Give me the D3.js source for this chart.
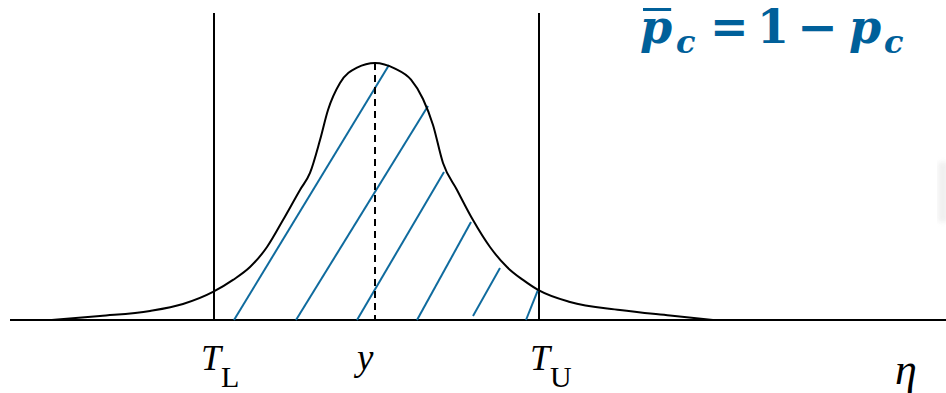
<!DOCTYPE html>
<html>
<head>
<meta charset="utf-8">
<script src="https://cdn.jsdelivr.net/npm/d3@7"></script>
<style>
  html, body { margin: 0; padding: 0; background: #fff; }
  svg { display: block; }
</style>
</head>
<body>
<svg id="chart" width="946" height="393"></svg>
<script>
// Sampled density of the measured quantity η (relative height, peak = 1)
const curveEta     = [-8.08, -6.875, -5.625, -4.8, -4.05, -3.55, -3.125, -2.7, -2.3, -1.875, -1.625, -1.375, -1.175, -0.875, -0.45, 0.0, 0.5, 0.9, 1.2, 1.45, 1.7, 2.05, 2.45, 2.875, 3.3, 3.7, 4.1, 4.875, 6.125, 7.375, 8.45];
const curveDensity = [0.0, 0.0156, 0.035, 0.062, 0.109, 0.156, 0.206, 0.284, 0.389, 0.506, 0.572, 0.700, 0.817, 0.922, 0.982, 1.0, 0.978, 0.935, 0.86, 0.759, 0.611, 0.506, 0.389, 0.284, 0.206, 0.156, 0.115, 0.070, 0.039, 0.0175, 0.0];

// Tolerance limits and the nominal value
const limitNames = ["T", "T"];
const limitSubs  = ["L", "U"];
const limitEta   = [-4.025, 4.1];
const nominalEta = 0;
const nominalLabel = "y";
const axisLabel = "η";

// Hatch strokes marking the conforming region (start / end in η and density)
const hatchStartEta     = [-3.525, -1.975, -0.45, 1.05, 2.45, 3.775];
const hatchStartDensity = [0, 0, 0, 0, 0.016, 0];
const hatchEndEta       = [0.35, 1.325, 1.725, 2.4, 3.125, 4.075];
const hatchEndDensity   = [0.992, 0.833, 0.576, 0.381, 0.202, 0.117];

const W = 946, H = 393;
const x = d3.scaleLinear().domain([-9.375, 14.275]).range([0, W]);
const y = d3.scaleLinear().domain([0, 1]).range([320, 63]);
const axisStartEta = -9.125;
const limitTop = 1.195;

const svg = d3.select("#chart");
const ink = "#000";
const blue = "#0f6b9e";
const formulaBlue = "#00609a";

// faint scan speck at the right edge
const defs = svg.append("defs");
defs.append("filter").attr("id", "soft")
  .append("feGaussianBlur").attr("stdDeviation", 2.5);
svg.append("rect")
  .attr("x", 938).attr("y", 162).attr("width", 10).attr("height", 60)
  .attr("fill", "#d8d8d8").attr("opacity", 0.4).attr("filter", "url(#soft)");

// horizontal η axis
svg.append("line")
  .attr("x1", x(axisStartEta)).attr("x2", x.range()[1])
  .attr("y1", y(0)).attr("y2", y(0))
  .attr("stroke", ink).attr("stroke-width", 2);

// tolerance limit lines
svg.selectAll("line.limit").data(limitEta).join("line")
  .attr("class", "limit")
  .attr("x1", d => x(d)).attr("x2", d => x(d))
  .attr("y1", y(0)).attr("y2", y(limitTop))
  .attr("stroke", ink).attr("stroke-width", 2);

// hatch strokes
const hatch = hatchStartEta.map((s, i) => ({
  x0: s, y0: hatchStartDensity[i], x1: hatchEndEta[i], y1: hatchEndDensity[i]
}));
svg.selectAll("line.hatch").data(hatch).join("line")
  .attr("class", "hatch")
  .attr("x1", d => x(d.x0)).attr("y1", d => y(d.y0))
  .attr("x2", d => x(d.x1)).attr("y2", d => y(d.y1))
  .attr("stroke", blue).attr("stroke-width", 2);

// nominal value, dashed
svg.append("line")
  .attr("x1", x(nominalEta)).attr("x2", x(nominalEta))
  .attr("y1", y(1)).attr("y2", y(0))
  .attr("stroke", ink).attr("stroke-width", 2)
  .attr("stroke-dasharray", "7,5");

// density curve
const pts = curveEta.map((e, i) => [e, curveDensity[i]]);
const line = d3.line().x(d => x(d[0])).y(d => y(d[1])).curve(d3.curveMonotoneX);
svg.append("path")
  .attr("d", line(pts))
  .attr("fill", "none").attr("stroke", ink).attr("stroke-width", 2);

// axis labels
const serif = "'Liberation Serif', 'Times New Roman', serif";
const labelBase = 370;
const limitOffsets = [-13, -9];
limitEta.forEach((e, i) => {
  const t = svg.append("text")
    .attr("x", x(e) + limitOffsets[i]).attr("y", labelBase)
    .attr("font-family", serif).attr("font-size", 36).attr("fill", ink);
  t.append("tspan").attr("font-style", "italic").text(limitNames[i]);
  t.append("tspan").attr("font-size", 30).attr("dy", 17).text(limitSubs[i]);
});
svg.append("text")
  .attr("x", x(nominalEta) - 18).attr("y", labelBase)
  .attr("font-family", serif).attr("font-style", "italic")
  .attr("font-size", 37).attr("fill", ink).text(nominalLabel);
svg.append("text")
  .attr("x", 895).attr("y", 384)
  .attr("font-family", serif).attr("font-style", "italic")
  .attr("font-size", 44).attr("fill", ink).text(axisLabel);

// formula  p̄c = 1 − pc
const ff = "'DejaVu Serif', serif";
const g = svg.append("g").attr("fill", formulaBlue).attr("font-family", ff).attr("font-weight", "bold");
const pBar = g.append("text").attr("x", 640).attr("y", 43).attr("font-size", 46).attr("font-style", "italic").text("p");
g.append("text").attr("x", 676).attr("y", 53).attr("font-size", 32).attr("font-style", "italic").text("c");
g.append("text").attr("x", 710).attr("y", 43).attr("font-size", 46).text("=");
g.append("text").attr("x", 757).attr("y", 43).attr("font-size", 46).text("1");
g.append("text").attr("transform", "translate(797,43) scale(1.06,1)")
  .attr("font-size", 46).text("−");
g.append("text").attr("x", 849).attr("y", 43).attr("font-size", 46).attr("font-style", "italic").text("p");
g.append("text").attr("x", 884).attr("y", 53).attr("font-size", 32).attr("font-style", "italic").text("c");
const bb = pBar.node().getBBox();
g.append("rect")
  .attr("x", bb.x + 3).attr("y", 8).attr("width", bb.width - 4).attr("height", 3);
</script>
</body>
</html>
